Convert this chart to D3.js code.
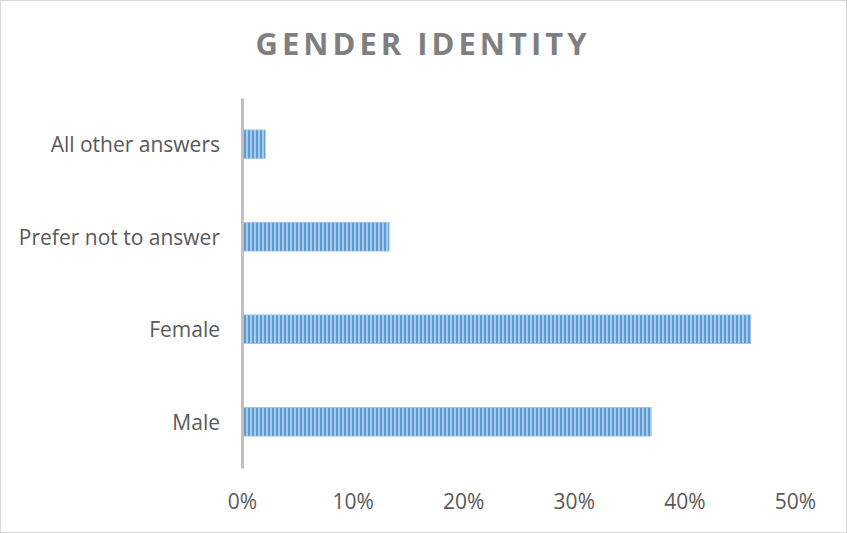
<!DOCTYPE html>
<html>
<head>
<meta charset="utf-8">
<script src="https://cdn.jsdelivr.net/npm/d3@7"></script>
<style>
  body { margin: 0; background: #fff; }
  text { font-family: "Open Sans", sans-serif; }
</style>
</head>
<body>
<svg id="chart" width="847" height="533"></svg>
<script>
// data
var categories = ["All other answers", "Prefer not to answer", "Female", "Male"];
var shares = [0.021, 0.133, 0.46, 0.37];
var tickValues = [0, 0.1, 0.2, 0.3, 0.4, 0.5];

var W = 847, H = 533;
var margin = {top: 98, right: 52, bottom: 65, left: 242};

var svg = d3.select("#chart");

// outer border
svg.append("rect")
    .attr("x", 0.5).attr("y", 0.5)
    .attr("width", W - 1).attr("height", H - 1)
    .attr("fill", "#fff")
    .attr("stroke", "#d9d9d9");

// striped fill like the excel pattern
var defs = svg.append("defs");
var pat = defs.append("pattern")
    .attr("id", "stripes")
    .attr("patternUnits", "userSpaceOnUse")
    .attr("width", 4).attr("height", 4);
pat.append("rect").attr("width", 4).attr("height", 4).attr("fill", "#a9cbea");
pat.append("rect").attr("width", 2).attr("height", 4).attr("fill", "#5b9bd5");

var x = d3.scaleLinear()
    .domain([0, 0.5])
    .range([margin.left, W - margin.right]);

var y = d3.scaleBand()
    .domain(categories)
    .range([margin.top, H - margin.bottom])
    .paddingInner(0.69)
    .paddingOuter(0.345);

// title
svg.append("text")
    .attr("x", 423)
    .attr("y", 55)
    .attr("text-anchor", "middle")
    .attr("fill", "#7f7f7f")
    .style("font-size", "31px")
    .style("font-weight", "bold")
    .style("letter-spacing", "4px")
    .text("GENDER IDENTITY");

// bars
svg.append("g")
    .selectAll("rect")
    .data(categories)
    .enter().append("rect")
    .attr("x", x(0))
    .attr("y", function(d) { return y(d); })
    .attr("width", function(d, i) { return x(shares[i]) - x(0); })
    .attr("height", y.bandwidth())
    .attr("fill", "url(#stripes)")
    .attr("stroke", "#9dc3e6")
    .attr("stroke-width", 0.8);

// x axis, labels only
var xAxis = d3.axisBottom(x)
    .tickValues(tickValues)
    .tickFormat(d3.format(".0%"))
    .tickSize(0)
    .tickPadding(0);
var gx = svg.append("g")
    .attr("transform", "translate(0," + 509 + ")")
    .call(xAxis);
gx.select(".domain").remove();
gx.selectAll("text")
    .attr("dy", "0")
    .attr("fill", "#595959")
    .style("font-size", "21px");

// y axis
var yAxis = d3.axisLeft(y)
    .tickSize(0)
    .tickPadding(22);
var gy = svg.append("g")
    .attr("transform", "translate(" + margin.left + ",0)")
    .call(yAxis);
gy.select(".domain")
    .attr("stroke", "#bfbfbf")
    .attr("stroke-width", 3);
gy.selectAll("text")
    .attr("dy", "0.37em")
    .attr("fill", "#595959")
    .style("font-size", "21px");
</script>
</body>
</html>
